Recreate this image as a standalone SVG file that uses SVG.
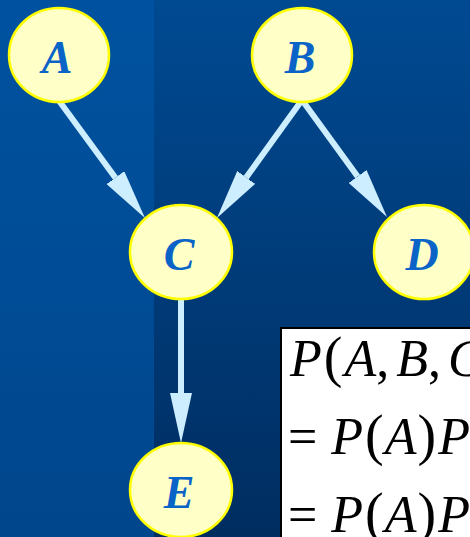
<svg xmlns="http://www.w3.org/2000/svg" width="470" height="537" viewBox="0 0 470 537">
  <defs>
    <linearGradient id="bgLeft" x1="0" y1="0" x2="0" y2="1">
      <stop offset="0" stop-color="#0052a0"/>
      <stop offset="1" stop-color="#00468c"/>
    </linearGradient>
    <linearGradient id="bgRight" x1="0" y1="0" x2="0" y2="1">
      <stop offset="0" stop-color="#004a92"/>
      <stop offset="1" stop-color="#002d60"/>
    </linearGradient>
    <!-- arrowhead starts where the shaft ends and runs 50px on to the tip -->
    <marker id="head" markerUnits="userSpaceOnUse" viewBox="0 0 50 22" refX="0" refY="11" markerWidth="50" markerHeight="22" orient="auto">
      <path d="M0,0 L50,11 L0,22 Z" fill="#cdeeff"/>
    </marker>
  </defs>
  <style>
    .node ellipse { fill: #ffffc8; stroke: #ffff00; stroke-width: 2.5; }
    .node text { font-family: "Liberation Serif", "Times New Roman", serif; font-style: italic; font-weight: bold; font-size: 46px; fill: #0a64c8; text-anchor: middle; }
    .edge { stroke: #cdeeff; stroke-width: 6; fill: none; marker-end: url(#head); }
    .formula { font-family: "Liberation Serif", "Times New Roman", serif; font-size: 52px; fill: #000; }
    .it { font-style: italic; }
    .par { font-size: 56px; }
  </style>

  <!-- background panels -->
  <rect x="0" y="0" width="470" height="537" fill="url(#bgRight)"/>
  <rect x="0" y="0" width="154" height="537" fill="url(#bgLeft)"/>

  <!-- connectors -->
  <g id="edges">
    <line class="edge" x1="57" y1="98" x2="115.4" y2="177.7"/>
    <line class="edge" x1="302" y1="100" x2="246.2" y2="177.4"/>
    <line class="edge" x1="302" y1="100" x2="357.6" y2="176.5"/>
    <line class="edge" x1="181" y1="296" x2="181" y2="393"/>
  </g>

  <!-- nodes -->
  <g id="node-A" class="node">
    <ellipse cx="59" cy="55" rx="50" ry="47"/>
    <text x="57" y="73">A</text>
  </g>
  <g id="node-B" class="node">
    <ellipse cx="302" cy="55" rx="50" ry="47"/>
    <text x="300" y="73">B</text>
  </g>
  <g id="node-C" class="node">
    <ellipse cx="181" cy="252" rx="51" ry="47"/>
    <text x="179" y="270">C</text>
  </g>
  <g id="node-D" class="node">
    <ellipse cx="424" cy="252" rx="50" ry="47"/>
    <text x="422" y="270">D</text>
  </g>
  <g id="node-E" class="node">
    <ellipse cx="181" cy="490" rx="51" ry="47"/>
    <text x="179" y="508">E</text>
  </g>

  <!-- joint probability box -->
  <g id="formula">
    <rect x="281" y="328" width="200" height="220" fill="#ffffff" stroke="#000000" stroke-width="2"/>
    <text class="formula" x="290" y="376"><tspan class="it">P</tspan><tspan class="par" dx="2">(</tspan><tspan class="it" dx="2">A</tspan>,<tspan class="it" dx="7">B</tspan>,<tspan class="it" dx="7">C</tspan></text>
    <text class="formula" x="288" y="454">=<tspan class="it" dx="14">P</tspan><tspan class="par" dx="2">(</tspan><tspan class="it" dx="1">A</tspan><tspan class="par" dx="1">)</tspan><tspan class="it" dx="2">P</tspan></text>
    <text class="formula" x="288" y="532">=<tspan class="it" dx="14">P</tspan><tspan class="par" dx="2">(</tspan><tspan class="it" dx="1">A</tspan><tspan class="par" dx="1">)</tspan><tspan class="it" dx="2">P</tspan></text>
  </g>
</svg>
